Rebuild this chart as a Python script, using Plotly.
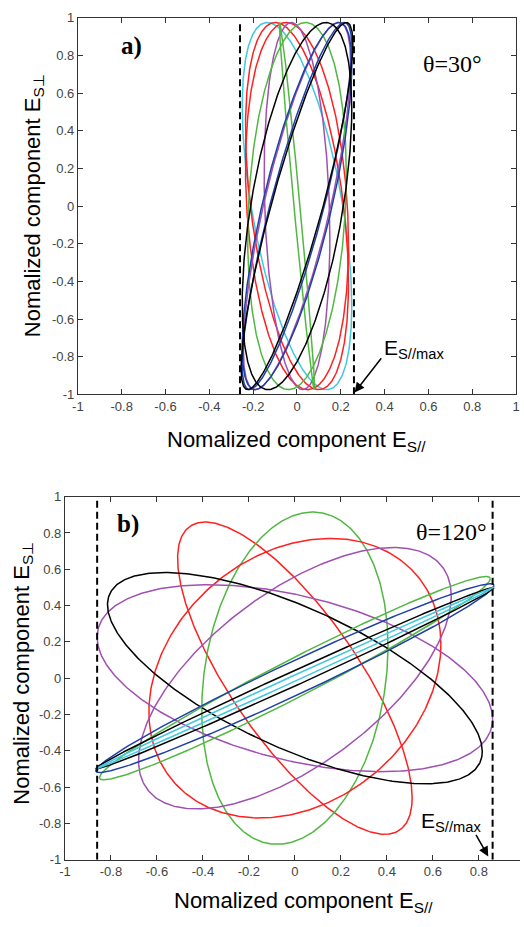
import numpy as np
import plotly.graph_objects as go

# Polarization ellipses of the scattered field:
#   E_S// = A_par * cos(wt),  E_S_perp = A_perp * cos(wt - delta)
# ---- panel a) theta = 30 deg ----
colors_a = ["#40c8e0", "#ff2020", "#ff2020", "#a050b0", "#a050b0",
            "#50b840", "#50b840", "#2040a8", "#2040a8", "#000000", "#000000"]
amp_par_a = [0.25, 0.235, 0.235, 0.15, 0.245, 0.08, 0.225, 0.25, 0.25, 0.25, 0.255]
amp_perp_a = [0.975, 0.975, 0.975, 0.975, 0.975, 0.975, 0.975, 0.975, 0.975, 0.975, 0.975]
phase_a = [123, 102, 115, 100, 39, 170, 80, 30, 40, 58, 28]
esmax_a = 0.26

# ---- panel b) theta = 120 deg ----
colors_b = ["#ff2020", "#50b840", "#ff2020", "#a050b0", "#a050b0",
            "#000000", "#50b840", "#2040a8", "#000000", "#40c8e0"]
amp_par_b = [0.51, 0.405, 0.635, 0.68, 0.86, 0.815, 0.85, 0.866, 0.866, 0.866]
amp_perp_b = [0.86, 0.915, 0.77, 0.72, 0.515, 0.582, 0.56, 0.52, 0.5, 0.5]
phase_b = [140, 79, 76, 51, 116, 134, 12, 11, 5, 2]
esmax_b = 0.86

tick_vals = [-1, -0.8, -0.6, -0.4, -0.2, 0, 0.2, 0.4, 0.6, 0.8, 1]
tick_text = ["-1", "-0.8", "-0.6", "-0.4", "-0.2", "0", "0.2", "0.4", "0.6", "0.8", "1"]

W, H = 524, 927
wt = np.linspace(0, 2 * np.pi, 400)

fig = go.Figure()


def add_ellipses(colors, apar, aperp, phase, xa, ya):
    for c, a, b, d in zip(colors, apar, aperp, phase):
        dr = np.deg2rad(d)
        fig.add_trace(go.Scatter(
            x=a * np.cos(wt), y=b * np.cos(wt - dr), mode="lines",
            line=dict(color=c, width=1.5), xaxis=xa, yaxis=ya,
            showlegend=False, hoverinfo="skip"))


add_ellipses(colors_a, amp_par_a, amp_perp_a, phase_a, "x", "y")
add_ellipses(colors_b, amp_par_b, amp_perp_b, phase_b, "x2", "y2")

# dashed bounds at +/- E_S//max
for xv in (-esmax_a, esmax_a):
    fig.add_trace(go.Scatter(x=[xv, xv], y=[-1, 0.98], mode="lines",
                             line=dict(color="black", width=2, dash="7px,4px"),
                             xaxis="x", yaxis="y", showlegend=False, hoverinfo="skip"))
for xv in (-esmax_b, esmax_b):
    fig.add_trace(go.Scatter(x=[xv, xv], y=[-1, 1], mode="lines",
                             line=dict(color="black", width=2, dash="7px,4px"),
                             xaxis="x2", yaxis="y2", showlegend=False, hoverinfo="skip"))

axis_common = dict(tickvals=tick_vals, ticktext=tick_text, ticks="inside", ticklen=5,
                   tickcolor="#333", showline=True, linecolor="#333", linewidth=1,
                   showgrid=False, zeroline=False,
                   tickfont=dict(family="Liberation Sans", size=13, color="#444"))

fig.update_layout(
    width=W, height=H, margin=dict(l=0, r=0, t=0, b=0),
    paper_bgcolor="white", plot_bgcolor="white",
    xaxis=dict(domain=[73.3 / W, 520 / W], range=[-1, 1], mirror="allticks",
               anchor="y", **axis_common),
    yaxis=dict(domain=[1 - 393.7 / H, 1 - 11 / H], range=[-1, 1], mirror="allticks",
               anchor="x", **axis_common),
    xaxis2=dict(domain=[60.1 / W, 1.0], range=[-1, -1 + (W - 60.1) / 234.4],
                mirror="allticks", anchor="y2", **axis_common),
    yaxis2=dict(domain=[1 - 866.7 / H, 1 - 497.7 / H], range=[-1, 1], mirror=False,
                anchor="x2", **axis_common),
)

serif = "Liberation Serif"
sans = "Liberation Sans"
ann = []


def text_ann(x, y, text, ref, font, size, xanchor="center", angle=0):
    xr, yr = ref
    ann.append(dict(x=x, y=y, xref=xr, yref=yr, text=text, showarrow=False,
                    xanchor=xanchor, yanchor="middle", textangle=angle,
                    font=dict(family=font, size=size, color="black")))


# panel labels and angle
text_ann(-0.755, 0.849, "<b>a)</b>", ("x", "y"), serif, 25)
text_ann(0.711, 0.755, "θ=30°", ("x", "y"), serif, 24)
text_ann(-0.725, 0.852, "<b>b)</b>", ("x2", "y2"), serif, 25)
text_ann(0.683, 0.803, "θ=120°", ("x2", "y2"), serif, 24)
# E_S//max labels with arrows
text_ann(0.388, -0.76, "E<sub>S//max</sub>", ("x", "y"), sans, 21, xanchor="left")
ann.append(dict(x=0.263, y=-0.99, xref="x", yref="y", ax=0.39, ay=-0.80,
                axref="x", ayref="y", text="", showarrow=True, arrowhead=2,
                arrowsize=1.3, arrowwidth=1.5, arrowcolor="black"))
text_ann(0.54, -0.79, "E<sub>S//max</sub>", ("x2", "y2"), sans, 21, xanchor="left")
ann.append(dict(x=0.841, y=-0.982, xref="x2", yref="y2", ax=0.784, ay=-0.855,
                axref="x2", ayref="y2", text="", showarrow=True, arrowhead=2,
                arrowsize=1.3, arrowwidth=1.5, arrowcolor="black"))
# axis titles
xt = "Nomalized component E<sub>S//</sub>"
yt = "Nomalized component E<sub>S⊥</sub>"
text_ann(296 / W, 1 - 441 / H, xt, ("paper", "paper"), sans, 22)
text_ann(28 / W, 1 - 202 / H, yt, ("paper", "paper"), sans, 22, angle=-90)
text_ann(303 / W, 1 - 910 / H, xt, ("paper", "paper"), sans, 22)
text_ann(17 / W, 1 - 677 / H, yt, ("paper", "paper"), sans, 22, angle=-90)
fig.update_layout(annotations=ann)

fig.write_html("out.html")
